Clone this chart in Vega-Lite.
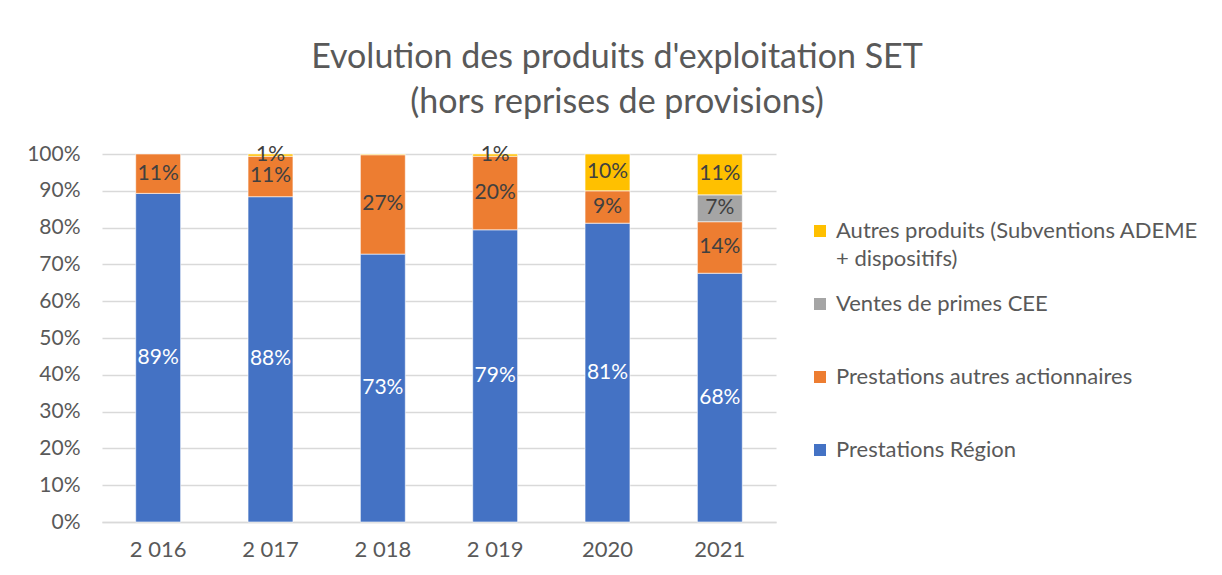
{
  "$schema": "https://vega.github.io/schema/vega-lite/v6.json",
  "autosize": "none",
  "width": 674,
  "height": 368,
  "padding": {"left": 102, "top": 154, "right": 446, "bottom": 53},
  "background": "white",
  "title": {
    "text": ["Evolution des produits d'exploitation SET", "(hors reprises de provisions)"],
    "font": "Lato",
    "fontSize": 34,
    "fontWeight": "normal",
    "color": "#595959",
    "anchor": "middle",
    "dx": 178,
    "offset": 23,
    "lineHeight": 45
  },
  "data": {
    "values": [
      {"annee": "2 016", "serie": "Prestations Région", "rang": 1, "v": 0.893},
      {"annee": "2 016", "serie": "Prestations autres actionnaires", "rang": 2, "v": 0.107},
      {"annee": "2 017", "serie": "Prestations Région", "rang": 1, "v": 0.884},
      {"annee": "2 017", "serie": "Prestations autres actionnaires", "rang": 2, "v": 0.11},
      {"annee": "2 017", "serie": "Autres produits (Subventions ADEME + dispositifs)", "rang": 4, "v": 0.006},
      {"annee": "2 018", "serie": "Prestations Région", "rang": 1, "v": 0.728},
      {"annee": "2 018", "serie": "Prestations autres actionnaires", "rang": 2, "v": 0.27},
      {"annee": "2 018", "serie": "Autres produits (Subventions ADEME + dispositifs)", "rang": 4, "v": 0.002},
      {"annee": "2 019", "serie": "Prestations Région", "rang": 1, "v": 0.794},
      {"annee": "2 019", "serie": "Prestations autres actionnaires", "rang": 2, "v": 0.2},
      {"annee": "2 019", "serie": "Autres produits (Subventions ADEME + dispositifs)", "rang": 4, "v": 0.006},
      {"annee": "2020", "serie": "Prestations Région", "rang": 1, "v": 0.812},
      {"annee": "2020", "serie": "Prestations autres actionnaires", "rang": 2, "v": 0.088},
      {"annee": "2020", "serie": "Autres produits (Subventions ADEME + dispositifs)", "rang": 4, "v": 0.1},
      {"annee": "2021", "serie": "Prestations Région", "rang": 1, "v": 0.676},
      {"annee": "2021", "serie": "Prestations autres actionnaires", "rang": 2, "v": 0.14},
      {"annee": "2021", "serie": "Ventes de primes CEE", "rang": 3, "v": 0.073},
      {"annee": "2021", "serie": "Autres produits (Subventions ADEME + dispositifs)", "rang": 4, "v": 0.111}
    ]
  },
  "encoding": {
    "x": {
      "field": "annee",
      "type": "nominal",
      "sort": null,
      "title": null,
      "scale": {"paddingInner": 0.6, "paddingOuter": 0.3},
      "axis": {
        "labelAngle": 0,
        "labelFont": "Lato",
        "labelFontSize": 22,
        "labelColor": "#595959",
        "labelPadding": 17,
        "ticks": false,
        "domainColor": "#d9d9d9",
        "domainWidth": 1.5,
        "grid": false
      }
    },
    "y": {
      "field": "v",
      "type": "quantitative",
      "stack": "zero",
      "title": null,
      "scale": {"domain": [0, 1], "nice": false},
      "axis": {
        "format": ".0%",
        "values": [0, 0.1, 0.2, 0.3, 0.4, 0.5, 0.6, 0.7, 0.8, 0.9, 1],
        "labelFont": "Lato",
        "labelFontSize": 21,
        "labelColor": "#595959",
        "labelPadding": 22,
        "ticks": false,
        "domain": false,
        "gridColor": "#d9d9d9",
        "gridWidth": 1.5
      }
    },
    "order": {"field": "rang", "type": "quantitative", "sort": "ascending"}
  },
  "layer": [
    {
      "mark": {"type": "bar", "stroke": "white", "strokeWidth": 0.6},
      "encoding": {
        "color": {
          "field": "serie",
          "type": "nominal",
          "title": null,
          "scale": {
            "domain": ["Autres produits (Subventions ADEME + dispositifs)", "Ventes de primes CEE", "Prestations autres actionnaires", "Prestations Région"],
            "range": ["#FFC000", "#A5A5A5", "#ED7D31", "#4472C4"]
          },
          "legend": {
            "orient": "none",
            "legendX": 707,
            "legendY": 66,
            "symbolType": "square",
            "symbolSize": 144,
            "symbolStrokeWidth": 0,
            "labelFont": "Lato",
            "labelFontSize": 22,
            "labelColor": "#595959",
            "labelLimit": 450,
            "labelOffset": 5,
            "labelBaseline": "middle",
            "rowPadding": 23,
            "labelExpr": "datum.label == 'Autres produits (Subventions ADEME + dispositifs)' ? ['Autres produits (Subventions ADEME', '+ dispositifs)'] : [datum.label, '']"
          }
        }
      }
    },
    {
      "transform": [{"filter": "datum.v >= 0.005"}],
      "mark": {"type": "text", "font": "Lato", "fontSize": 21},
      "encoding": {
        "y": {"field": "v", "type": "quantitative", "stack": "zero", "bandPosition": 0.5},
        "detail": {"field": "serie", "type": "nominal"},
        "text": {"field": "v", "type": "quantitative", "format": ".0%"},
        "color": {
          "condition": {"test": "datum.serie == 'Prestations Région'", "value": "white"},
          "value": "#404040"
        }
      }
    }
  ],
  "config": {
    "view": {"stroke": null},
    "style": {"guide-label": {"lineHeight": 28}}
  }
}
